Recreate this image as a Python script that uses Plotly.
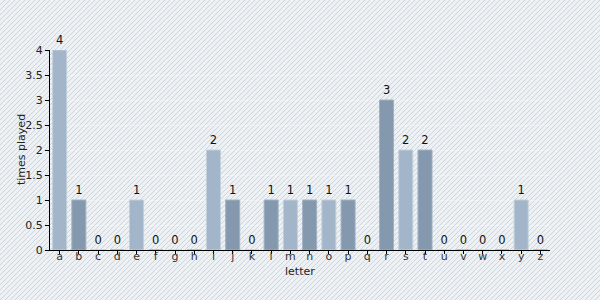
import base64
import plotly.graph_objects as go

letters = list("abcdefghijklmnopqrstuvwxyz")
times_played = [4, 1, 0, 0, 1, 0, 0, 0, 2, 1, 0, 1, 1, 1, 1, 1, 0, 3, 2, 2, 0, 0, 0, 0, 1, 0]

light_fill = "#a3b5c9"
light_line = "#c3d0dd"
dark_fill = "#8499ae"
dark_line = "#a2b2c3"

fills = [light_fill if i % 2 == 0 else dark_fill for i in range(len(letters))]
lines = [light_line if i % 2 == 0 else dark_line for i in range(len(letters))]

svg = """<svg xmlns='http://www.w3.org/2000/svg' width='600' height='300'>
<defs><pattern id='p' patternUnits='userSpaceOnUse' width='5' height='5'>
<rect width='5' height='5' fill='#eef1f3'/>
<path d='M-1,1 l2,-2 M0,5 l5,-5 M4,6 l2,-2' stroke='#cdd4db' stroke-width='1'/>
</pattern></defs>
<rect width='600' height='300' fill='url(#p)'/>
</svg>"""
src = "data:image/svg+xml;base64," + base64.b64encode(svg.encode()).decode()

fig = go.Figure(
    go.Bar(
        x=letters,
        y=times_played,
        text=[str(v) for v in times_played],
        textposition="outside",
        textfont=dict(size=11.5, color="#111"),
        outsidetextfont=dict(size=11.5, color="#111"),
        insidetextfont=dict(size=11.5, color="#111"),
        constraintext="none",
        cliponaxis=False,
        marker=dict(color=fills, line=dict(color=lines, width=1)),
        hoverinfo="x+y",
    )
)

fig.update_layout(
    width=600,
    height=300,
    margin=dict(l=50, r=50, t=50, b=50),
    paper_bgcolor="#eceff2",
    plot_bgcolor="rgba(0,0,0,0)",
    font=dict(family="DejaVu Sans, Verdana, sans-serif", size=11, color="#222"),
    bargap=0.27,
    showlegend=False,
    images=[dict(source=src, xref="paper", yref="paper", x=-0.1, y=1.25,
                 sizex=1.2, sizey=1.5, sizing="stretch", layer="below",
                 xanchor="left", yanchor="top")],
    annotations=[
        dict(text="times played", xref="paper", yref="paper", x=-0.058, y=0.5,
             xanchor="center", yanchor="middle", textangle=-90, showarrow=False,
             font=dict(size=11, color="#222")),
        dict(text="letter", xref="paper", yref="paper", x=0.5, y=-0.105,
             xanchor="center", yanchor="middle", showarrow=False,
             font=dict(size=11, color="#222")),
    ],
)

fig.update_xaxes(
    showline=True, linecolor="#000", linewidth=1,
    ticks="outside", ticklen=3, tickcolor="#000",
    tickfont=dict(size=11, color="#333"),
    ticklabelstandoff=-7,
    showgrid=False,
)
fig.update_yaxes(
    range=[0, 4], dtick=0.5,
    showline=True, linecolor="#000", linewidth=1,
    ticks="outside", ticklen=4, tickcolor="#000",
    tickfont=dict(size=11, color="#222"),
    showgrid=True, gridcolor="rgba(255,255,255,0.3)", gridwidth=1,
    zeroline=False,
)

fig.write_html("out.html")
